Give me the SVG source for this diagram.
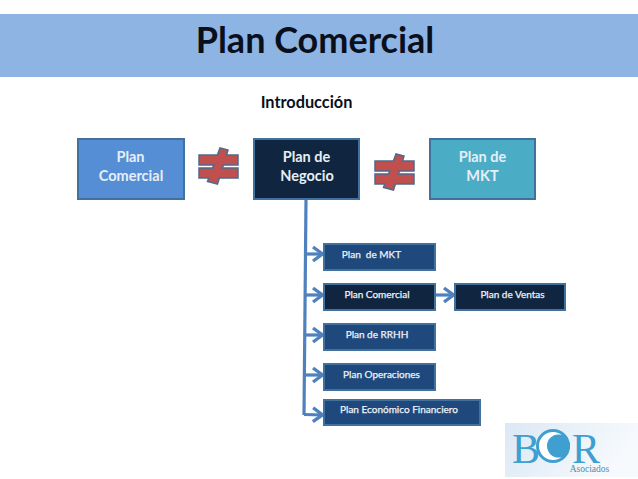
<svg xmlns="http://www.w3.org/2000/svg" width="638" height="479" viewBox="0 0 638 479">
<defs>
<marker id="arr" markerUnits="userSpaceOnUse" markerWidth="14" markerHeight="18" refX="12" refY="9" orient="auto"><path d="M1.500 2L11 9L1.500 16" fill="none" stroke="#4f81bd" stroke-width="3.400"/></marker>
<g id="neq"><path d="M-19.500 -11H-1.100L1.500 -18L9.500 -16L8 -11H19.500V-1H4.900L4 2H19.500V12H0.900L-1 18L-11 15.500L-9.700 12H-19.500V2H-5.900L-4.800 -1H-19.500Z" fill="#c0504d" stroke="#4f6a8f" stroke-width="1.500"/></g>
<linearGradient id="lg" x1="0" x2="1" y1="0" y2="0.300"><stop offset="0" stop-color="#dbe8f4"/><stop offset="1" stop-color="#f7fafd"/></linearGradient>
</defs>
<style>
text{font-family:Lato,"Open Sans","Liberation Sans",sans-serif;font-weight:700;text-anchor:middle}
.big{font-size:14.500px;fill:#e6eef7}
.small{font-size:10px;fill:#eef3f9;font-weight:400;stroke:#eef3f9;stroke-width:0.250}
.bx{stroke:#41719c;stroke-width:2}
.d{fill:#1f497d}.n{fill:#10253f}
.c{fill:none;stroke:#4f81bd;stroke-width:3.200}
.serif{font-family:"Liberation Serif",serif;font-weight:400;fill:#3f9fd0}
</style>
<rect width="638" height="479" fill="#fff"/>
<g id="banner"><rect x="0" y="14" width="638" height="63" fill="#8eb4e3"/><text x="315" y="53" fill="#0a0f1c" style="font-size:36px">Plan Comercial</text></g>
<text x="306.500" y="108" fill="#0a0f1c" style="font-size:16.300px">Introducción</text>
<g id="connectors">
<path class="c" d="M306 199L304 415"/>
<path class="c" marker-end="url(#arr)" d="M305 254H323.500"/>
<path class="c" marker-end="url(#arr)" d="M305 295H323.500"/>
<path class="c" marker-end="url(#arr)" d="M304.500 335H323.500"/>
<path class="c" marker-end="url(#arr)" d="M304.500 375H323.500"/>
<path class="c" marker-end="url(#arr)" d="M304 414.500L323.500 415"/>
<path class="c" marker-end="url(#arr)" d="M435 295H454.500"/>
</g>
<g id="plan-comercial"><rect class="bx" x="78" y="139" width="106" height="60" fill="#558ed5"/><text class="big" x="130.500" y="162">Plan</text><text class="big" x="131" y="181">Comercial</text></g>
<g id="neq1"><use href="#neq" x="218.500" y="166"/></g>
<g id="plan-negocio"><rect class="bx" x="254" y="139" width="105" height="60" fill="#10253f"/><text class="big" x="306.500" y="162">Plan de</text><text class="big" x="307" y="181">Negocio</text></g>
<g id="neq2"><use href="#neq" x="394.500" y="172"/></g>
<g id="plan-mkt"><rect class="bx" x="430" y="139" width="105" height="60" fill="#4bacc6"/><text class="big" x="482.500" y="162">Plan de</text><text class="big" x="482.500" y="181">MKT</text></g>
<g id="n-mkt"><rect class="bx d" x="324" y="244" width="111" height="26"/><text class="small" x="371.500" y="258" xml:space="preserve">Plan  de MKT</text></g>
<g id="n-comercial"><rect class="bx n" x="324" y="284" width="111" height="26"/><text class="small" x="377" y="298">Plan Comercial</text></g>
<g id="n-ventas"><rect class="bx n" x="455" y="284" width="110" height="26"/><text class="small" x="512.500" y="298">Plan de Ventas</text></g>
<g id="n-rrhh"><rect class="bx d" x="324" y="324" width="111" height="26"/><text class="small" x="377" y="338">Plan de RRHH</text></g>
<g id="n-oper"><rect class="bx d" x="324" y="364" width="111" height="26"/><text class="small" x="381.500" y="378">Plan Operaciones</text></g>
<g id="n-eco"><rect class="bx d" x="324" y="400" width="156" height="25"/><text class="small" x="399" y="413">Plan Económico Financiero</text></g>
<g id="logo">
<rect x="505" y="423" width="133" height="54" fill="url(#lg)"/>
<circle cx="553" cy="446" r="15.500" fill="#fff" stroke="#3f9fd0" stroke-width="3"/>
<circle cx="558.500" cy="446" r="11.500" fill="#3f9fd0"/>
<text class="serif" x="526" y="463" style="font-size:42px">B</text>
<text class="serif" x="586" y="463" style="font-size:42px">R</text>
<text class="serif" x="589.500" y="472" style="font-size:9.500px;fill:#4a8fb0">Asociados</text>
</g>
</svg>
